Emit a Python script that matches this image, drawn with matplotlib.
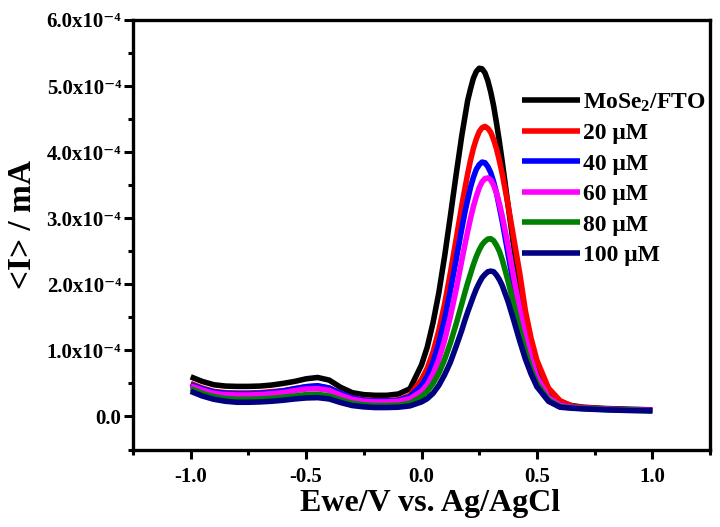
import numpy as np
import matplotlib
matplotlib.use("Agg")
import matplotlib.pyplot as plt
from matplotlib.ticker import MultipleLocator, FuncFormatter

plt.rcParams['font.family'] = ['Liberation Serif', 'DejaVu Serif']
plt.rcParams['font.weight'] = 'bold'
plt.rcParams['mathtext.fontset'] = 'custom'
plt.rcParams['mathtext.rm'] = 'Liberation Serif:bold'
plt.rcParams['mathtext.bf'] = 'Liberation Serif:bold'
plt.rcParams['mathtext.it'] = 'Liberation Serif:bold:italic'
plt.rcParams['mathtext.default'] = 'rm'

# Potential grid (V vs Ag/AgCl)
potential = [-1.0, -0.95, -0.9, -0.85, -0.8, -0.75, -0.7, -0.65, -0.6, -0.55,
             -0.5, -0.45, -0.4, -0.35, -0.3, -0.25, -0.2, -0.15, -0.1, -0.05,
             0.0, 0.025, 0.05, 0.075, 0.1, 0.125, 0.15, 0.175, 0.1875, 0.2,
             0.2125, 0.225, 0.2375, 0.25, 0.2625, 0.275, 0.2875, 0.3, 0.3125,
             0.325, 0.3375, 0.35, 0.375, 0.4, 0.425, 0.45, 0.475,
             0.5, 0.55, 0.6, 0.65, 0.7, 0.8, 0.9, 1.0]

# Currents in units of 1e-4 mA
mose2_fto = [0.60, 0.53, 0.48, 0.46, 0.455, 0.455, 0.46, 0.475, 0.50, 0.53,
             0.57, 0.59, 0.55, 0.44, 0.36, 0.33, 0.32, 0.32, 0.34, 0.42,
             0.78, 1.05, 1.42, 1.87, 2.42, 3.03, 3.66, 4.26, 4.52, 4.78,
             4.96, 5.12, 5.22, 5.27, 5.26, 5.20, 5.08, 4.91, 4.70,
             4.44, 4.16, 3.85, 3.20, 2.56, 1.96, 1.46, 1.05,
             0.74, 0.375, 0.22, 0.165, 0.14, 0.12, 0.11, 0.10]
c20 = [0.50, 0.43, 0.38, 0.36, 0.355, 0.355, 0.36, 0.375, 0.39, 0.42,
       0.45, 0.46, 0.43, 0.35, 0.28, 0.25, 0.24, 0.24, 0.25, 0.32,
       0.56, 0.73, 0.975, 1.30, 1.70, 2.17, 2.68, 3.20, 3.44, 3.67,
       3.88, 4.06, 4.20, 4.31, 4.37, 4.39, 4.36, 4.30, 4.19,
       4.05, 3.87, 3.67, 3.20, 2.69, 2.18, 1.60, 1.18,
       0.85, 0.43, 0.24, 0.16, 0.135, 0.115, 0.10, 0.095]
c40 = [0.48, 0.42, 0.37, 0.35, 0.345, 0.345, 0.35, 0.365, 0.385, 0.42,
       0.45, 0.465, 0.43, 0.35, 0.28, 0.245, 0.235, 0.235, 0.245, 0.30,
       0.47, 0.61, 0.82, 1.11, 1.47, 1.90, 2.37, 2.85, 3.08, 3.28,
       3.47, 3.62, 3.74, 3.81, 3.85, 3.84, 3.78, 3.69, 3.55,
       3.38, 3.17, 2.95, 2.46, 1.97, 1.51, 1.11, 0.795,
       0.56, 0.28, 0.17, 0.14, 0.125, 0.11, 0.10, 0.09]
c60 = [0.46, 0.40, 0.35, 0.33, 0.325, 0.325, 0.33, 0.345, 0.36, 0.39,
       0.415, 0.42, 0.395, 0.32, 0.26, 0.23, 0.22, 0.22, 0.23, 0.27,
       0.38, 0.48, 0.64, 0.86, 1.15, 1.51, 1.92, 2.37, 2.59, 2.80,
       3.00, 3.18, 3.33, 3.46, 3.55, 3.60, 3.61, 3.58, 3.50,
       3.38, 3.22, 3.03, 2.59, 2.10, 1.63, 1.21, 0.86,
       0.60, 0.29, 0.17, 0.14, 0.125, 0.11, 0.10, 0.09]
c80 = [0.42, 0.35, 0.30, 0.27, 0.26, 0.26, 0.265, 0.275, 0.29, 0.31,
       0.33, 0.335, 0.31, 0.25, 0.20, 0.175, 0.165, 0.165, 0.17, 0.20,
       0.30, 0.38, 0.50, 0.655, 0.86, 1.11, 1.40, 1.71, 1.87, 2.02,
       2.16, 2.30, 2.42, 2.52, 2.60, 2.65, 2.685, 2.69, 2.66,
       2.59, 2.50, 2.37, 2.05, 1.69, 1.32, 0.99, 0.71,
       0.50, 0.25, 0.15, 0.13, 0.12, 0.105, 0.095, 0.085]
c100 = [0.38, 0.31, 0.26, 0.23, 0.215, 0.215, 0.22, 0.23, 0.245, 0.265,
        0.28, 0.285, 0.265, 0.21, 0.165, 0.145, 0.135, 0.135, 0.14, 0.16,
        0.22, 0.27, 0.35, 0.47, 0.63, 0.82, 1.06, 1.31, 1.45, 1.58,
        1.70, 1.82, 1.93, 2.02, 2.10, 2.15, 2.19, 2.20, 2.19,
        2.14, 2.07, 1.98, 1.74, 1.45, 1.15, 0.87, 0.64,
        0.45, 0.23, 0.14, 0.125, 0.115, 0.10, 0.09, 0.085]

labels = ['MoSe$_2$/FTO', '20 μM', '40 μM', '60 μM', '80 μM', '100 μM']
colors = ['#000000', '#ff0000', '#0000ff', '#ff00ff', '#008000', '#000080']
series = [mose2_fto, c20, c40, c60, c80, c100]
scale = 1e-4

fig = plt.figure(figsize=(7.2, 5.27), dpi=100)
ax = fig.add_axes([133/720, 1 - 449.5/527, (710-133)/720, (449.5-20)/527])

x = np.array(potential)
for ys, c, lab in zip(series, colors, labels):
    ax.plot(x, np.array(ys) * scale, color=c, lw=4.0, label=lab,
            solid_capstyle='butt', solid_joinstyle='round')

ax.set_xlim(-1.25, 1.25)
ax.set_ylim(-0.5e-4, 6.0e-4)
ax.xaxis.set_major_locator(MultipleLocator(0.5))
ax.xaxis.set_minor_locator(MultipleLocator(0.25))
ax.yaxis.set_major_locator(MultipleLocator(1e-4))
ax.yaxis.set_minor_locator(MultipleLocator(0.5e-4))


def yfmt(v, pos):
    m = v / 1e-4
    if abs(m) < 1e-9:
        return '0.0'
    return '%.1fx10\u207b\u2074' % m


ax.yaxis.set_major_formatter(FuncFormatter(yfmt))
ax.xaxis.set_major_formatter(FuncFormatter(lambda v, p: '%.1f' % v))

for s in ax.spines.values():
    s.set_linewidth(2.4)
ax.tick_params(which='major', direction='out', length=6.5, width=2.2,
               labelsize=15, pad=2)
ax.tick_params(which='minor', direction='out', length=3.5, width=2.2)
ax.tick_params(axis='x', which='major', pad=6)
for t in ax.get_xticklabels() + ax.get_yticklabels():
    t.set_fontweight('bold')

ax.set_xlabel('Ewe/V vs. Ag/AgCl', fontsize=23, fontweight='bold')
ax.set_ylabel('<I> / mA', fontsize=24, fontweight='bold')
ax.xaxis.set_label_coords(0.515, -0.093)
ax.yaxis.set_label_coords(-0.165, 0.523)

leg = ax.legend(loc='upper left', bbox_to_anchor=(0.674, 0.834), frameon=False,
                fontsize=17, handlelength=2.45, handletextpad=0.13,
                labelspacing=0.38, borderpad=0, borderaxespad=0)
for t in leg.get_texts():
    t.set_fontweight('bold')

fig.savefig('out.png', dpi=100)
